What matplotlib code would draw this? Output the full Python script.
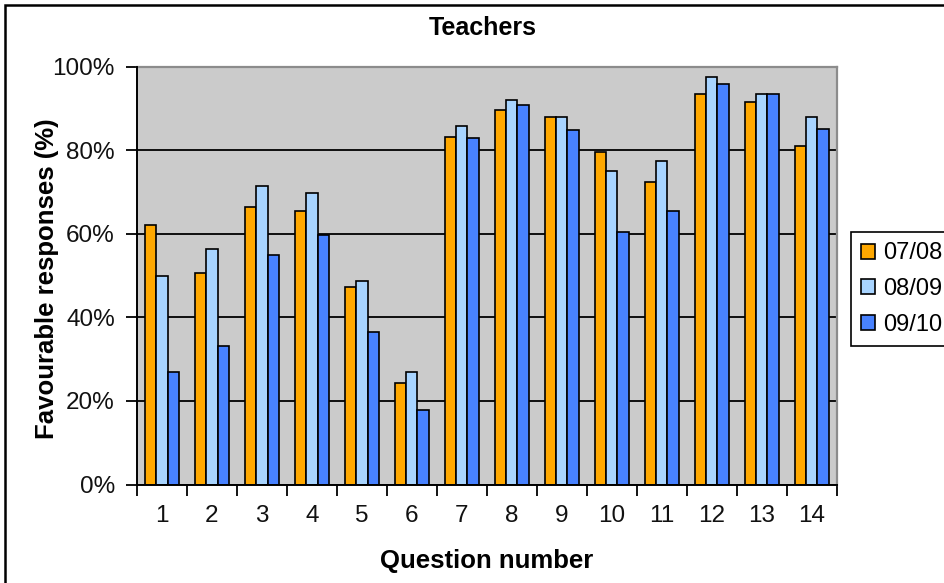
import matplotlib.pyplot as plt
import matplotlib.patches as mpatches
import numpy as np

plt.rcParams['font.family'] = ['Liberation Sans', 'DejaVu Sans']

questions = [str(i) for i in range(1, 15)]
years = ['07/08', '08/09', '09/10']
y0708 = [62.1, 50.7, 66.3, 65.5, 47.3, 24.4, 83.1, 89.6, 88.0, 79.6, 72.4, 93.5, 91.6, 80.9]
y0809 = [49.9, 56.4, 71.3, 69.8, 48.8, 27.0, 85.7, 91.9, 88.0, 75.0, 77.4, 97.6, 93.5, 88.0]
y0910 = [27.0, 33.2, 54.9, 59.8, 36.5, 17.8, 82.8, 90.8, 84.7, 60.3, 65.5, 95.7, 93.5, 85.0]
colores = ['#FFA800', '#A8D4FF', '#4882FF']

W, H = 944, 583
fig = plt.figure(figsize=(W / 100, H / 100), dpi=100)
ax = fig.add_axes([137 / W, 1 - 484.5 / H, 699.5 / W, 418 / H])
ax.set_facecolor('#CBCBCB')

x = np.arange(len(questions))
ancho = 0.227
series = [y0708, y0809, y0910]
for i, (vals, c, lab) in enumerate(zip(series, colores, years)):
    ax.bar(x + (i - 1) * ancho, vals, ancho, color=c, edgecolor='black',
           linewidth=1.2, label=lab, zorder=3)

ax.set_xlim(-0.5, len(questions) - 0.5)
ax.set_ylim(0, 100)
ax.set_yticks(range(0, 101, 20))
ax.set_yticklabels(['%d%%' % v for v in range(0, 101, 20)])
ax.set_xticks(x)
ax.set_xticklabels(questions)
ax.set_xticks(np.arange(-0.5, len(questions)), minor=True)
ax.tick_params(axis='x', which='major', length=0, pad=15, labelsize=17.5)
ax.tick_params(axis='x', which='minor', length=8, width=1.3, direction='out')
ax.tick_params(axis='y', length=8, width=1.3, direction='out', pad=8, labelsize=17.5)
ax.tick_params(axis='both', colors='black', which='both', labelcolor='#111111')

ax.yaxis.grid(True, color='black', linewidth=1.3, zorder=1)
ax.set_axisbelow(True)
for s in ['top', 'right']:
    ax.spines[s].set_color('#8C8C8C')
    ax.spines[s].set_linewidth(1.6)
for s in ['left', 'bottom']:
    ax.spines[s].set_color('black')
    ax.spines[s].set_linewidth(1.4)
    ax.spines[s].set_zorder(4)

fig.text(483 / W, 1 - 28 / H, 'Teachers', ha='center', va='center',
         fontsize=18, fontweight='bold')
fig.text(487 / W, 1 - 568 / H, 'Question number', ha='center', va='baseline',
         fontsize=18.5, fontweight='bold')
fig.text(47.5 / W, 1 - 278.5 / H, 'Favourable responses (%)', ha='center', va='center',
         rotation=90, fontsize=18.5, fontweight='bold')

# borde exterior del grafico
fig.patches.append(mpatches.Rectangle((5 / W, -0.2), 2, 1.2 - 5 / H, transform=fig.transFigure,
                                      fill=False, edgecolor='black', linewidth=1.8))

handles, labels = ax.get_legend_handles_labels()
leg = fig.legend(handles, labels, loc='upper left', bbox_to_anchor=(850.7 / W, 1 - 232 / H),
                 borderaxespad=0, fancybox=False, framealpha=1, edgecolor='black',
                 fontsize=17, handlelength=0.6, handleheight=0.6, handletextpad=0.33,
                 borderpad=0.44, labelspacing=0.58)
leg.get_frame().set_linewidth(1.2)

fig.savefig('out.png', dpi=100)
